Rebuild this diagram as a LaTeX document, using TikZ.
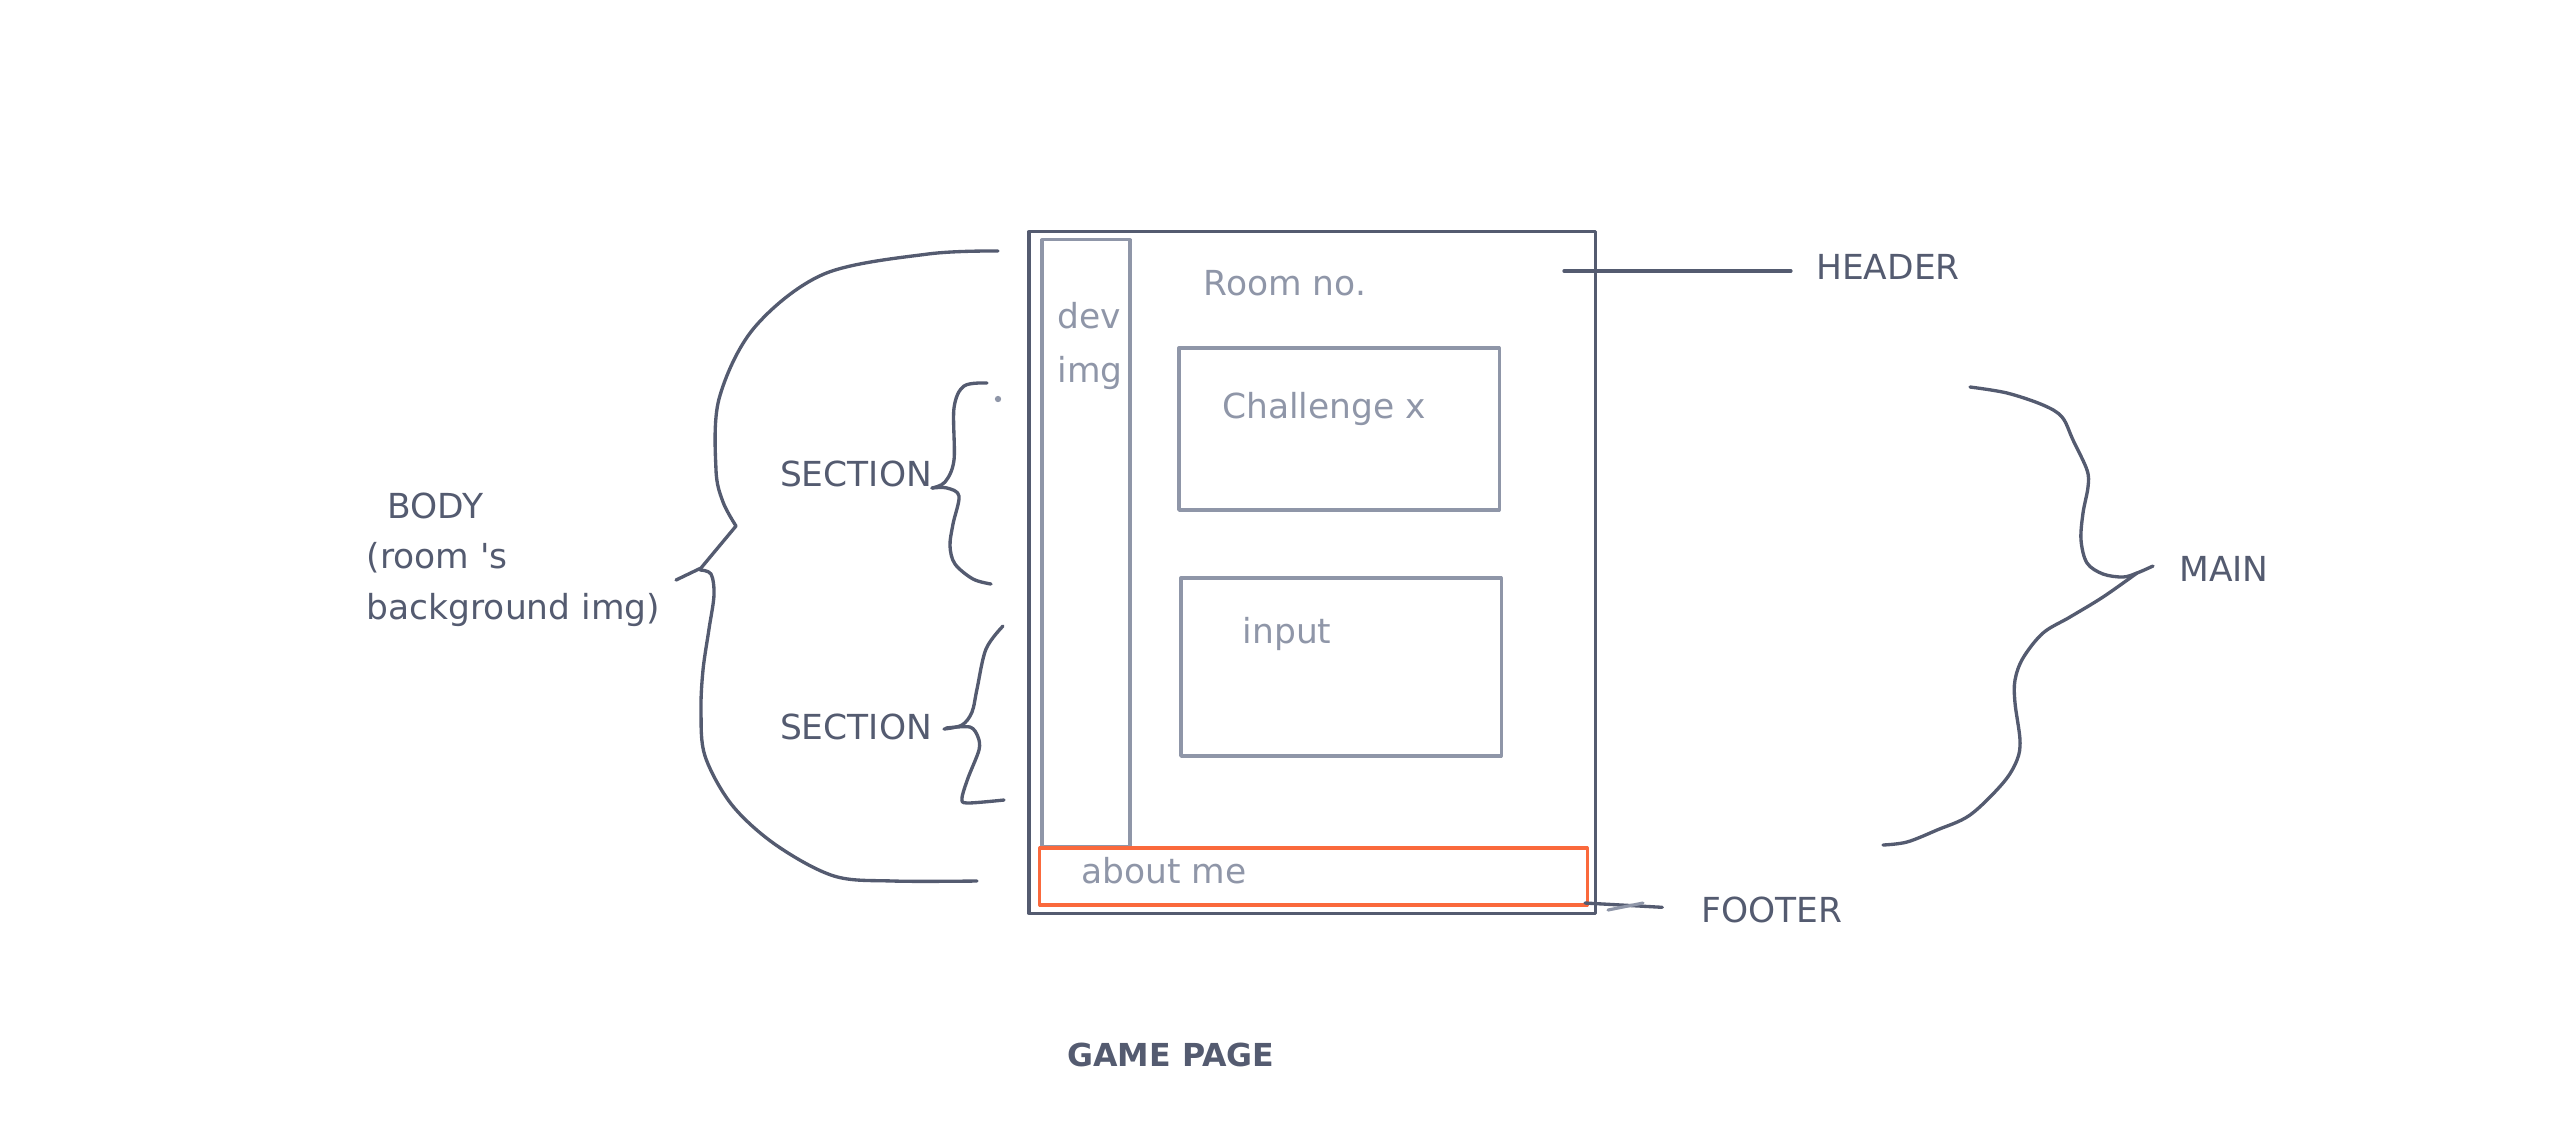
\documentclass[tikz,border=0pt]{standalone}
\usepackage{fontspec}
\setmainfont{DejaVu Sans}
\usetikzlibrary{positioning}
\definecolor{inkc}{RGB}{84,91,112}
\definecolor{greyc}{RGB}{143,150,168}
\definecolor{footc}{RGB}{250,105,60}

\begin{document}
\begin{tikzpicture}[
    x=0.01cm, y=-0.01cm,
    line cap=round, line join=round,
    ink/.style={draw=inkc, line width=0.95pt},
    wire/.style={draw=greyc, line width=0.9pt, inner sep=0pt},
    tag/.style={text=inkc, font=\fontsize{9.8}{14.3}\selectfont, inner sep=0pt},
    hint/.style={text=greyc, font=\fontsize{9.8}{14.3}\selectfont, inner sep=0pt},
    title/.style={text=inkc, font=\fontsize{9}{11}\selectfont\bfseries, inner sep=0pt}
]
\useasboundingbox (0,0) rectangle (2560,1132);

% page frame and its blocks
\node[ink, inner sep=0pt, minimum width=5.66cm, minimum height=6.81cm] (page) at (1312,572.5) {};
\node[wire, minimum width=0.88cm, minimum height=6.06cm] (devcol) at (1086,543) {};
\node[wire, minimum width=3.2cm, minimum height=1.62cm] (chal) at (1339,429) {};
\node[wire, minimum width=3.2cm, minimum height=1.78cm] (inp) at (1341,667) {};
\node[wire, draw=footc, minimum width=5.47cm, minimum height=0.57cm] (about) at (1313.5,876.5) {};

% texts inside the page
\node[hint, anchor=base] (room) at (1285,295) {Room no.};
\node[hint, anchor=base west] (devtxt) at (1057,328) {dev};
\node[hint, anchor=base west] (imgtxt) at (1057,382) {img};
\node[hint, anchor=base] (chaltxt) at (1324,418) {Challenge x};
\node[hint, anchor=base] (inptxt) at (1287,643) {input};
\node[hint, anchor=base] (abouttxt) at (1164,883) {about me};

% labels round the page
\node[tag, anchor=base] (header) at (1888,279) {HEADER};
\node[tag, anchor=base] (footer) at (1772,922) {FOOTER};
\node[tag, anchor=base] (main) at (2224,581) {MAIN};
\node[tag, anchor=base] (sec1) at (856,486) {SECTION};
\node[tag, anchor=base] (sec2) at (856,739) {SECTION};
\node[tag, anchor=base west, align=left] (body) at (366,619) {\hspace*{6pt}BODY\\(room \textquotesingle s\\background img)};
\node[title, anchor=base] (gamepage) at (1171,1066) {GAME PAGE};

% pointers
\coordinate (hdrpt) at (1564,271);
\coordinate (ftpt) at (1585,903);
\draw[ink, shorten >=7pt] (hdrpt) -- (header.west |- hdrpt);
\draw[ink, shorten >=11pt] (ftpt) -- (footer.west);
\draw[greyc, line width=0.9pt] (1608,910) -- (1643,903);

% body brace
\draw[ink] plot[smooth, tension=0.55] coordinates {(998,251) (928,254) (824,274) (754,328) (719,399) (716,470) (723,502) (736,526)} -- (701,568) -- (676,580);
\draw[ink] plot[smooth, tension=0.55] coordinates {(700,570) (711,574) (714,595) (709,629) (703,670) (701,711) (705,756) (732,805) (776,845) (834,876) (893,881) (977,881)};

% section braces
\draw[ink] plot[smooth, tension=0.55] coordinates {(987,383) (964,386) (954,408) (954,460) (945,482) (932,488)};
\draw[ink] plot[smooth, tension=0.55] coordinates {(932,488) (947,488) (959,496) (953,524) (950,546) (955,564) (973,579) (991,584)};
\fill[greyc] (998,399) circle (0.9pt);
\draw[ink] plot[smooth, tension=0.55] coordinates {(1003,626) (986,649) (977,689) (972,712) (962,725) (944,729)};
\draw[ink] plot[smooth, tension=0.5] coordinates {(946,728) (970,727) (978,737) (979,750) (968,778) (962,798) (967,803) (1004,800)};

% main brace
\draw[ink] plot[smooth, tension=0.55] coordinates {(1970,387) (2007,393) (2043,405) (2062,417) (2073,440) (2087,470) (2088,487) (2083,513) (2081,540) (2087,563) (2103,574) (2123,577) (2137,573) (2153,566)};
\draw[ink] plot[smooth, tension=0.55] coordinates {(2137,573) (2103,597) (2070,617) (2043,633) (2023,658) (2015,680) (2015,703) (2020,740) (2017,760) (2003,783) (1970,815) (1937,830) (1907,842) (1883,845)};
\end{tikzpicture}
\end{document}
